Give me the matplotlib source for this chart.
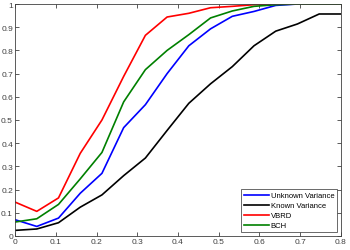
import numpy as np
import matplotlib.pyplot as plt

plt.rcParams['font.family'] = ['Liberation Sans', 'DejaVu Sans']

x = np.linspace(0, 0.8, 16)
unknown_var = [0.07, 0.041, 0.077, 0.184, 0.27, 0.467, 0.566, 0.70, 0.82, 0.893,
               0.947, 0.968, 0.994, 1.0, 1.0, 1.0]
known_var = [0.024, 0.03, 0.057, 0.124, 0.177, 0.26, 0.336, 0.455, 0.572, 0.656,
             0.73, 0.82, 0.883, 0.914, 0.957, 0.957]
vbrd = [0.146, 0.106, 0.164, 0.356, 0.5, 0.688, 0.865, 0.944, 0.96, 0.984,
        0.99, 0.997, 1.0, 1.0, 1.0, 1.0]
bch = [0.06, 0.074, 0.136, 0.246, 0.36, 0.578, 0.717, 0.80, 0.868, 0.94,
       0.97, 0.99, 0.997, 1.0, 1.0, 1.0]

fig = plt.figure(figsize=(3.5, 2.51), dpi=100)
ax = fig.add_axes([0.043, 0.056, 0.931, 0.924])

ax.plot(x, unknown_var, color='#0000ff', lw=1.2, label='Unknown Variance')
ax.plot(x, known_var, color='#000000', lw=1.2, label='Known Variance')
ax.plot(x, vbrd, color='#ff0000', lw=1.2, label='VBRD')
ax.plot(x, bch, color='#008000', lw=1.2, label='BCH')

ax.set_xlim(0, 0.8)
ax.set_ylim(0, 1)
ax.set_xticks(np.arange(0, 0.81, 0.1))
ax.set_yticks(np.arange(0, 1.01, 0.1))
ax.set_xticklabels(['0', '0.1', '0.2', '0.3', '0.4', '0.5', '0.6', '0.7', '0.8'])
ax.set_yticklabels(['0', '0.1', '0.2', '0.3', '0.4', '0.5', '0.6', '0.7', '0.8', '0.9', '1'])
ax.tick_params(direction='in', top=True, right=True, length=3, width=0.6,
               labelsize=6, colors='#404040', pad=1.5)
for s in ax.spines.values():
    s.set_color('#404040')
    s.set_linewidth(0.6)

leg = ax.legend(loc='lower right', fontsize=5.5, frameon=True, fancybox=False,
                edgecolor='#262626', handlelength=3.3, handletextpad=0.2,
                labelspacing=0.35, borderpad=0.35, borderaxespad=0.5)
leg.get_frame().set_linewidth(0.6)

fig.savefig('out.png', dpi=100)
